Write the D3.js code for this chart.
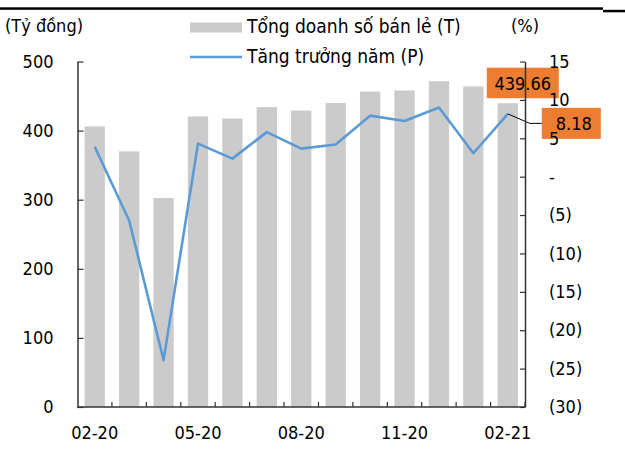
<!DOCTYPE html>
<html>
<head>
<meta charset="utf-8">
<script src="https://cdn.jsdelivr.net/npm/d3@7"></script>
<style>
  html, body { margin: 0; padding: 0; background: #fff; }
  svg { display: block; font-family: "DejaVu Sans Condensed", "DejaVu Sans", sans-serif; font-stretch: condensed; }
</style>
</head>
<body>
<svg id="chart" width="625" height="450"></svg>
<script>
// Monthly retail sales (billion VND) and year-on-year growth (%)
const months = ["02-20","03-20","04-20","05-20","06-20","07-20","08-20","09-20","10-20","11-20","12-20","01-21","02-21"];
const sales  = [406, 370, 302.5, 420.5, 417.5, 434, 429, 440, 456.5, 458, 471.5, 464, 439.66];
const growth = [3.9, -5.7, -23.9, 4.3, 2.35, 5.8, 3.65, 4.2, 7.95, 7.25, 9.0, 3.05, 8.18];
const leftTicks  = [0, 100, 200, 300, 400, 500];
const rightTicks = [-30, -25, -20, -15, -10, -5, 0, 5, 10, 15];
const shownMonths = ["02-20", "05-20", "08-20", "11-20", "02-21"];

const svg = d3.select("#chart");
const X0 = 77.5, X1 = 525, Y0 = 407, Y1 = 61.5;
const FS = 18;
const axisColor = "#333";

const x = d3.scaleBand().domain(months).range([X0, X1]).paddingInner(0.41).paddingOuter(0.205);
const yL = d3.scaleLinear().domain([0, 500]).range([Y0, Y1]);
const yR = d3.scaleLinear().domain([-30, 15]).range([Y0, Y1]);

// top rule
svg.append("rect").attr("x", 0).attr("y", 7.3).attr("width", 603).attr("height", 2.5).attr("fill", "#000");
svg.append("rect").attr("x", 603).attr("y", 9.8).attr("width", 22).attr("height", 2.5).attr("fill", "#000");

// bars
svg.append("g").selectAll("rect").data(months).join("rect")
  .attr("x", d => x(d))
  .attr("width", x.bandwidth())
  .attr("y", (d, i) => yL(sales[i]))
  .attr("height", (d, i) => Y0 - yL(sales[i]))
  .attr("fill", "#cbcbcb");

// growth line
const line = d3.line().x((d, i) => x(months[i]) + x.bandwidth() / 2).y(d => yR(d));
svg.append("path").datum(growth).attr("d", line)
  .attr("fill", "none").attr("stroke", "#5b9bd5").attr("stroke-width", 2.6).attr("stroke-linejoin", "round");

// left axis
const gL = svg.append("g").attr("transform", `translate(${X0},0)`)
  .call(d3.axisLeft(yL).tickValues(leftTicks).tickSizeInner(-6).tickSizeOuter(0).tickPadding(24));
// right axis
const gR = svg.append("g").attr("transform", `translate(${X1},0)`)
  .call(d3.axisRight(yR).tickValues(rightTicks).tickSizeInner(-5).tickSizeOuter(0).tickPadding(24)
    .tickFormat(d => d === 0 ? "-" : d < 0 ? `(${-d})` : d));
// bottom axis: ticks on category boundaries
const gB = svg.append("g").attr("transform", `translate(0,${Y0})`);
gB.append("line").attr("x1", X0).attr("x2", X1).attr("stroke", axisColor).attr("stroke-width", 1.5);
gB.selectAll("line.tk").data(months).join("line").attr("class", "tk")
  .attr("x1", d => x(d) + x.step() * (1 - 0.205))
  .attr("x2", d => x(d) + x.step() * (1 - 0.205))
  .attr("y1", 0).attr("y2", -5).attr("stroke", axisColor).attr("stroke-width", 1.2);
gB.selectAll("text").data(shownMonths).join("text")
  .attr("x", d => x(d) + x.bandwidth() / 2).attr("y", 32)
  .attr("text-anchor", "middle").attr("font-size", FS).attr("fill", "#000").text(d => d);

[gL, gR].forEach(g => {
  g.attr("font-family", null).attr("font-size", null);
  g.select(".domain").attr("stroke", axisColor).attr("stroke-width", 1.5);
  g.selectAll(".tick line").attr("stroke", axisColor).attr("stroke-width", 1.2);
  g.selectAll(".tick text").attr("font-size", FS).attr("fill", "#000");
});

// data labels for the last month
const last = months.length - 1;
const cx = x(months[last]) + x.bandwidth() / 2;
const barTop = yL(sales[last]);
const pY = yR(growth[last]);
const labels = svg.insert("g", () => gR.node());
labels.append("rect").attr("x", cx - 21).attr("y", barTop - 35.5).attr("width", 72).attr("height", 30.5).attr("fill", "#ed7d31");
labels.append("text").attr("x", cx + 15).attr("y", barTop - 13.5).attr("text-anchor", "middle")
  .attr("font-size", FS).text(sales[last].toFixed(2));
labels.append("path").attr("d", `M${cx},${pY}L${cx + 22},${pY + 9.5}L${cx + 34},${pY + 9.5}`)
  .attr("fill", "none").attr("stroke", "#000").attr("stroke-width", 1);
labels.append("rect").attr("x", cx + 34).attr("y", pY - 6).attr("width", 59).attr("height", 31).attr("fill", "#ed7d31");
labels.append("text").attr("x", cx + 66).attr("y", pY + 16.5).attr("text-anchor", "middle")
  .attr("font-size", FS).text(growth[last].toFixed(2));

// unit titles
svg.append("text").attr("x", 5).attr("y", 32).attr("font-size", FS).text("(Tỷ đồng)");
svg.append("text").attr("x", 511).attr("y", 32).attr("font-size", FS).text("(%)");

// legend
const lg = svg.append("g");
lg.append("rect").attr("x", 190).attr("y", 22.5).attr("width", 52).attr("height", 10).attr("fill", "#cbcbcb");
lg.append("text").attr("x", 247).attr("y", 33).attr("font-size", 19).text("Tổng doanh số bán lẻ (T)");
lg.append("line").attr("x1", 190).attr("x2", 242).attr("y1", 57).attr("y2", 57).attr("stroke", "#5b9bd5").attr("stroke-width", 2.6);
lg.append("text").attr("x", 247).attr("y", 63).attr("font-size", 19).text("Tăng trưởng năm (P)");
</script>
</body>
</html>
